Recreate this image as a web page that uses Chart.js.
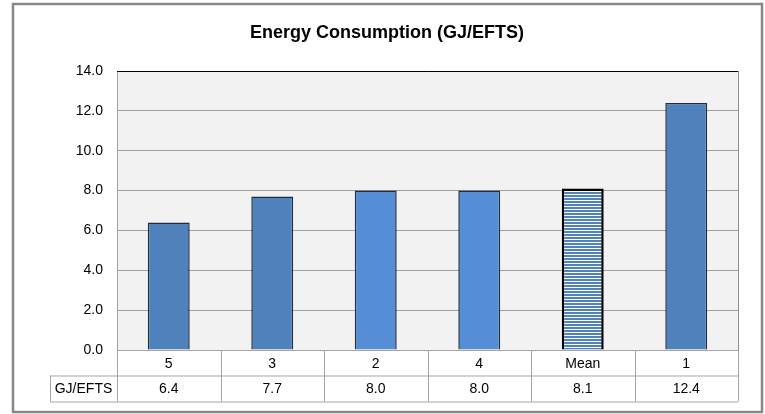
<!DOCTYPE html>
<html>
<head>
<meta charset="utf-8">
<script src="https://cdn.jsdelivr.net/npm/chart.js@4.4.1/dist/chart.umd.min.js"></script>
<style>
html,body{margin:0;padding:0;background:#fff;}
#wrap{width:765px;height:414px;position:relative;}
</style>
</head>
<body>
<div id="wrap"><canvas id="c" width="765" height="414"></canvas></div>
<script>
// ---- data ----
const categories = ['5', '3', '2', '4', 'Mean', '1'];
const values = [6.4, 7.7, 8.0, 8.0, 8.1, 12.4];
const seriesLabel = 'GJ/EFTS';
const titleText = 'Energy Consumption (GJ/EFTS)';
const yMin = 0, yMax = 14, yStep = 2;

// ---- styles ----
const DARK = '#4F81BD', LIGHT = '#558ED5';
function stripePattern() {
  const p = document.createElement('canvas');
  p.width = 4; p.height = 3;
  const g = p.getContext('2d');
  g.fillStyle = '#ffffff'; g.fillRect(0, 0, 4, 3);
  g.fillStyle = DARK; g.fillRect(0, 0, 4, 2);
  return g.createPattern(p, 'repeat');
}
const barFill = [DARK, DARK, LIGHT, LIGHT, stripePattern(), DARK];
const barBorder = ['#1F2D40', '#1F2D40', '#1F2D40', '#1F2D40', '#000000', '#1F2D40'];
const barBorderW = [1.5, 1.5, 1.5, 1.5, 2.5, 1.5];
const FONT = '"Liberation Sans", Arial, sans-serif';

const decor = {
  id: 'decor',
  beforeDraw(chart) {
    const ctx = chart.ctx, a = chart.chartArea;
    ctx.save();
    ctx.fillStyle = '#ffffff';
    ctx.fillRect(0, 0, chart.width, chart.height);
    ctx.strokeStyle = '#878787'; ctx.lineWidth = 2.5;
    ctx.strokeRect(13, 4, 749, 408);
    ctx.fillStyle = '#F2F2F2';
    ctx.fillRect(a.left, a.top, a.right - a.left, a.bottom - a.top);
    ctx.restore();
  },
  afterDraw(chart) {
    const ctx = chart.ctx, a = chart.chartArea, xs = chart.scales.x;
    const n = categories.length;
    const colW = (a.right - a.left) / n;
    const r0 = a.bottom, r1 = a.bottom + 25.5, r2 = a.bottom + 51.5;
    const hdrL = 50;
    ctx.save();
    // plot border
    ctx.lineWidth = 1;
    ctx.strokeStyle = '#000000';
    ctx.beginPath(); ctx.moveTo(a.left, a.top + 0.5); ctx.lineTo(a.right, a.top + 0.5); ctx.stroke();
    ctx.strokeStyle = '#8C8C8C';
    ctx.beginPath(); ctx.moveTo(a.right + 0.5, a.top); ctx.lineTo(a.right + 0.5, a.bottom); ctx.stroke();
    // table
    ctx.strokeStyle = '#A6A6A6';
    ctx.lineWidth = 1;
    ctx.beginPath();
    ctx.moveTo(a.left, r0 + 0.5); ctx.lineTo(a.right, r0 + 0.5);
    ctx.moveTo(hdrL, r1 + 0.5); ctx.lineTo(a.right, r1 + 0.5);
    ctx.moveTo(hdrL, r2 + 0.5); ctx.lineTo(a.right, r2 + 0.5);
    ctx.moveTo(hdrL + 0.5, r1); ctx.lineTo(hdrL + 0.5, r2);
    for (let i = 0; i <= n; i++) {
      const x = Math.round(a.left + i * colW) + 0.5;
      ctx.moveTo(x, r0); ctx.lineTo(x, r2);
    }
    ctx.stroke();
    ctx.fillStyle = '#000000';
    ctx.font = '14px ' + FONT;
    ctx.textAlign = 'center'; ctx.textBaseline = 'middle';
    for (let i = 0; i < n; i++) {
      const cx = xs.getPixelForValue(i);
      ctx.fillText(categories[i], cx, (r0 + r1) / 2 + 1);
      ctx.fillText(values[i].toFixed(1), cx, (r1 + r2) / 2 + 1);
    }
    ctx.fillText(seriesLabel, (hdrL + a.left) / 2, (r1 + r2) / 2 + 1);
    ctx.restore();
  }
};

new Chart(document.getElementById('c'), {
  type: 'bar',
  data: {
    labels: categories,
    datasets: [{
      label: seriesLabel,
      data: values,
      backgroundColor: barFill,
      borderColor: barBorder,
      borderWidth: barBorderW,
      borderSkipped: 'start',
      categoryPercentage: 1,
      barPercentage: 0.405
    }]
  },
  options: {
    responsive: false,
    animation: false,
    devicePixelRatio: 1,
    layout: { padding: { left: 36, right: 27, top: 0, bottom: 64 } },
    plugins: {
      legend: { display: false },
      tooltip: { enabled: false },
      title: {
        display: true,
        text: titleText,
        color: '#000000',
        font: { family: FONT, size: 18, weight: 'bold', lineHeight: 1.2 },
        padding: { top: 22, bottom: 27.4 }
      }
    },
    scales: {
      x: { display: false },
      y: {
        min: yMin, max: yMax,
        afterFit(scale) { scale.width = 81; },
        ticks: {
          stepSize: yStep,
          padding: 14,
          color: '#000000',
          font: { family: FONT, size: 14 },
          callback: v => Number(v).toFixed(1)
        },
        grid: { color: '#A0A0A0', lineWidth: 1, drawTicks: false },
        border: { display: true, color: '#A0A0A0', width: 1 }
      }
    }
  },
  plugins: [decor]
});
</script>
</body>
</html>
